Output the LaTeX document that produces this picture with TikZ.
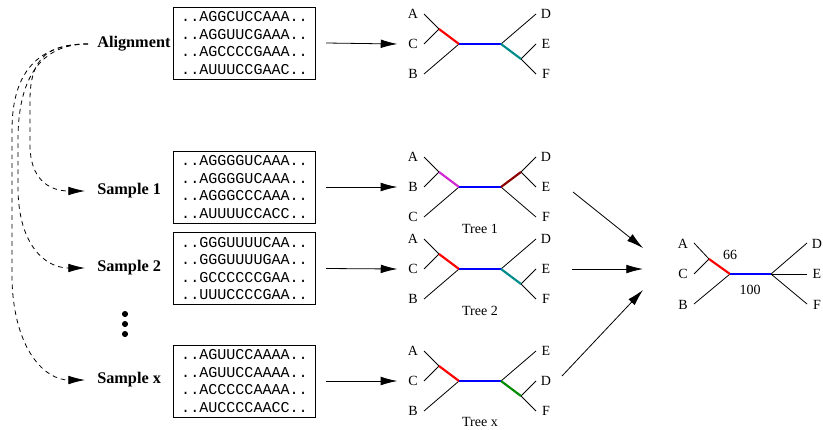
\documentclass[tikz,border=0pt]{standalone}
\usepackage{fontspec}
\setmainfont{Liberation Serif}
\setmonofont{Liberation Mono}
\usetikzlibrary{arrows.meta}
\definecolor{tealc}{RGB}{0,140,140}
\definecolor{pinkc}{RGB}{210,40,210}
\definecolor{darkredc}{RGB}{140,0,0}
\definecolor{greenc}{RGB}{0,140,0}
\begin{document}
\begin{tikzpicture}[x=0.75pt,y=-0.75pt,
  seq/.style={draw, line width=0.6pt, inner xsep=2pt, inner ysep=1pt, align=left,
    font=\fontsize{11.3}{13.2}\selectfont\ttfamily, minimum width=107pt, minimum height=54pt},
  lab/.style={font=\fontsize{12.2}{14}\selectfont\bfseries, anchor=west, inner sep=0pt},
  arr/.style={line width=0.6pt, -{Latex[length=12.5pt,width=6.5pt]}},
  darr/.style={arr, dash pattern=on 3.5pt off 3pt},
  thinb/.style={line width=0.6pt},
  thickb/.style={line width=1.6pt},
  leaf/.style={font=\fontsize{10.5}{12}\selectfont, inner sep=0pt},
  pics/tree/.style n args={9}{code={
    \coordinate (-L) at (0,0);
    \coordinate (-R) at (42,0);
    \coordinate (-ls) at (-20,-15);
    \coordinate (-rs) at (62,{15*#9});
    \coordinate (-l1) at (-35,-30);
    \coordinate (-l2) at (-35,0);
    \coordinate (-l3) at (-35,30);
    \coordinate (-rfar) at (77,{-30*#9});
    \coordinate (-rmid) at (77,0);
    \coordinate (-rnear) at (77,{30*#9});
    \draw[thinb] (-ls) -- (-l1);
    \draw[thinb] (-ls) -- (-l2);
    \draw[thinb] (-L) -- (-l3);
    \draw[thinb] (-R) -- (-rfar);
    \draw[thinb] (-rs) -- (-rmid);
    \draw[thinb] (-rs) -- (-rnear);
    \draw[thickb, #7] (-ls) -- (-L);
    \draw[thickb, blue] (-L) -- (-R);
    \draw[thickb, #8] (-R) -- (-rs);
    \node[leaf] (-a) at (-46,-30) {#1};
    \node[leaf] (-b) at (-46,0) {#2};
    \node[leaf] (-c) at (-46,30) {#3};
    \node[leaf] (-d) at (87,-30) {#4};
    \node[leaf] (-e) at (87,0) {#5};
    \node[leaf] (-f) at (87,30) {#6};
  }}
]
\useasboundingbox (0,0) rectangle (823,429);

% sequence boxes
\node[seq] (b0) at (244.5,43) {..AGGCUCCAAA..\\..AGGUUCGAAA..\\..AGCCCCGAAA..\\..AUUUCCGAAC..};
\node[seq] (b1) at (244.5,187) {..AGGGGUCAAA..\\..AGGGGUCAAA..\\..AGGGCCCAAA..\\..AUUUUCCACC..};
\node[seq] (b2) at (244.5,268.5) {..GGGUUUUCAA..\\..GGGUUUUGAA..\\..GCCCCCCGAA..\\..UUUCCCCGAA..};
\node[seq] (b3) at (244.5,381) {..AGUUCCAAAA..\\..AGUUCCAAAA..\\..ACCCCCAAAA..\\..AUCCCCAACC..};

% labels
\node[lab] (al) at (97,44) {Alignment};
\node[lab] (s1) at (97,191) {Sample 1};
\node[lab] (s2) at (97,268) {Sample 2};
\node[lab] (sx) at (97,380) {Sample x};

\node[circle, fill, inner sep=0pt, minimum size=4.6pt] (d1) at (125,314) {};
\node[circle, fill, inner sep=0pt, minimum size=4.6pt] (d2) at (125,324) {};
\node[circle, fill, inner sep=0pt, minimum size=4.6pt] (d3) at (125,334) {};

% trees
\pic (t0) at (459,44) {tree={A}{C}{B}{D}{E}{F}{red}{tealc}{1}};
\pic (t1) at (459,187) {tree={A}{B}{C}{D}{E}{F}{pinkc}{darkredc}{-1}};
\pic (t2) at (459,269) {tree={A}{C}{B}{D}{E}{F}{red}{tealc}{1}};
\pic (t3) at (459,381) {tree={A}{C}{B}{E}{D}{F}{red}{greenc}{1}};

\node[leaf] (c1) at (480,229) {Tree 1};
\node[leaf] (c2) at (480,311) {Tree 2};
\node[leaf] (c3) at (480,422) {Tree x};

% arrows box -> tree
\draw[arr] ([xshift=7.5pt]b0.east) -- ([xshift=-8pt]t0-b.west);
\draw[arr] ([xshift=7.5pt]b1.east) -- ([xshift=-8pt]t1-b.west);
\draw[arr] ([xshift=7.5pt]b2.east) -- ([xshift=-8pt]t2-b.west);
\draw[arr] ([xshift=7.5pt]b3.east) -- ([xshift=-8pt]t3-b.west);

% dashed resampling arrows
\coordinate (ds) at (88,44);
\draw[darr] (ds) .. controls (50,44) and (30,56) .. (30,100) -- (30,145)
  .. controls (30,178) and (48,191) .. ([xshift=-9pt]s1.west);
\draw[darr] (ds) .. controls (45,44) and (18,72) .. (18,140) -- (18,190)
  .. controls (19,245) and (45,268) .. ([xshift=-9pt]s2.west);
\draw[darr] (ds) .. controls (40,44) and (12,70) .. (12,130) -- (12,280)
  .. controls (14,350) and (45,380) .. ([xshift=-9pt]sx.west);

% consensus tree
\coordinate (kL) at (730,274);
\coordinate (kR) at (771,274);
\coordinate (kls) at (709,259);
\coordinate (ka) at (694,243);
\coordinate (kc) at (694,274);
\coordinate (kb) at (694,304);
\coordinate (kd) at (807,243);
\coordinate (ke) at (807,274);
\coordinate (kf) at (807,304);
\draw[thinb] (kls) -- (ka);
\draw[thinb] (kls) -- (kc);
\draw[thinb] (kL) -- (kb);
\draw[thinb] (kR) -- (kd);
\draw[thinb] (kR) -- (ke);
\draw[thinb] (kR) -- (kf);
\draw[thickb, red] (kls) -- (kL);
\draw[thickb, blue] (kL) -- (kR);
\node[leaf] (kA) at (683,244) {A};
\node[leaf] (kC) at (683,274) {C};
\node[leaf] (kB) at (683,305) {B};
\node[leaf] (kD) at (817,244) {D};
\node[leaf] (kE) at (817,274) {E};
\node[leaf] (kF) at (817,305) {F};
\node[leaf] (n66) at (730,255) {66};
\node[leaf] (n100) at (750,290) {100};

% arrows to consensus
\coordinate (e1) at (573,192);
\coordinate (e2) at (572,269);
\coordinate (e3) at (562,376);
\coordinate (k1) at (643,248);
\coordinate (k2) at (643,269);
\coordinate (k3) at (643,290);
\draw[arr] (e1) -- (k1);
\draw[arr] (e2) -- (k2);
\draw[arr] (e3) -- (k3);
\end{tikzpicture}
\end{document}
